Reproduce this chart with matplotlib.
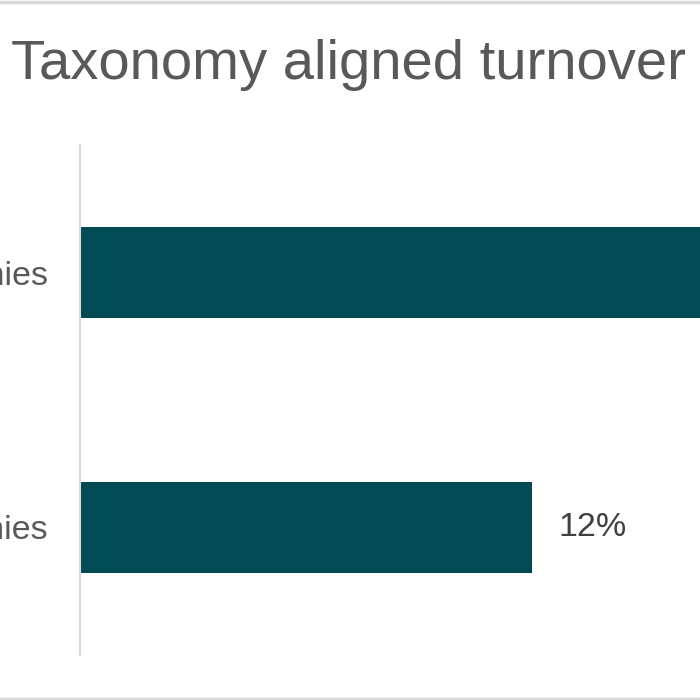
import matplotlib.pyplot as plt
from matplotlib.lines import Line2D

plt.rcParams['font.family'] = ['Liberation Sans', 'DejaVu Sans']

# data
categories = ["Non-financial companies", "Financial companies"]
values = [21, 12]
value_labels = ["21%", "12%"]

bar_color = "#024b54"
text_color = "#595959"
line_color = "#d9d9d9"

fig = plt.figure(figsize=(7, 7), dpi=100)

# axes run past the right edge of the canvas, like the cropped original
ax = fig.add_axes([80 / 700, 45 / 700, 942 / 700, 510 / 700])
ypos = list(range(len(categories)))
ax.barh(ypos, values, height=0.36, color=bar_color)
ax.set_xlim(0, 25)
ax.set_ylim(len(categories) - 0.5, -0.5)

ax.set_yticks(ypos)
ax.set_yticklabels(categories, fontsize=24.5, color=text_color)
ax.tick_params(axis="y", length=0, pad=23)
ax.set_xticks([])
for side in ["top", "right", "bottom"]:
    ax.spines[side].set_visible(False)
ax.spines["left"].set_color(line_color)
ax.spines["left"].set_linewidth(1.5)

for y, v, lab in zip(ypos, values, value_labels):
    ax.text(v + 0.7, y, lab, va="center", ha="left", fontsize=24.5, color="#404040")

fig.text(348 / 700, 1 - 65 / 700, "Taxonomy aligned turnover", ha="center", va="center",
         fontsize=40.5, color=text_color)

# chart frame lines (top and bottom visible in the crop)
fig.add_artist(Line2D([0, 1], [1 - 1.5 / 700, 1 - 1.5 / 700], transform=fig.transFigure,
                      color=line_color, linewidth=2.5))
fig.add_artist(Line2D([0, 1], [1.5 / 700, 1.5 / 700], transform=fig.transFigure,
                      color=line_color, linewidth=2.5))

fig.savefig("out.png", dpi=100)
